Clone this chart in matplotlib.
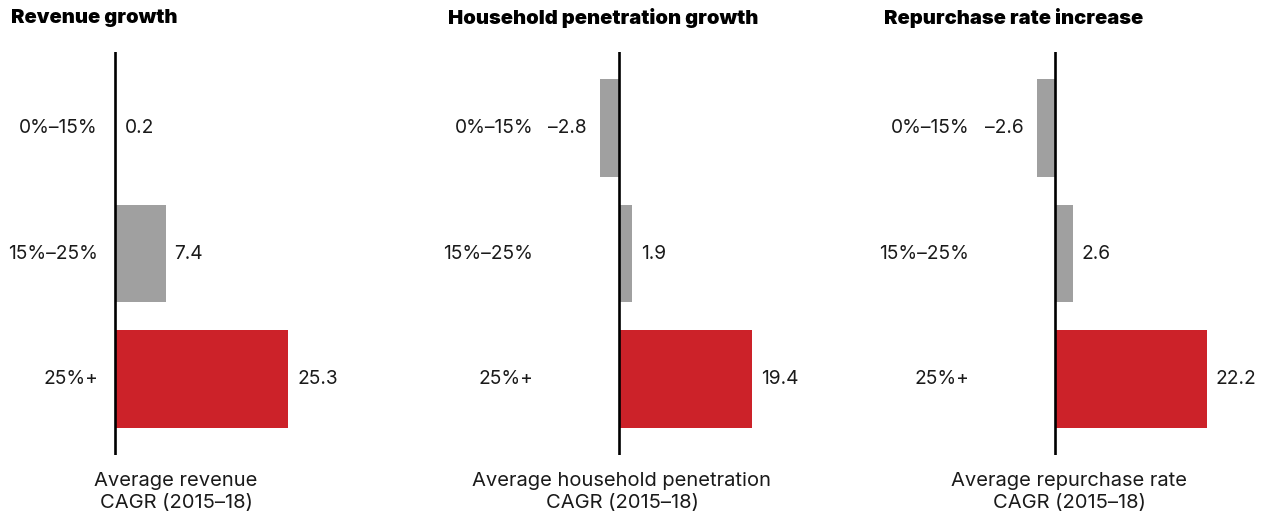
import matplotlib
matplotlib.use("Agg")
import matplotlib.pyplot as plt
import matplotlib.transforms as mtransforms

plt.rcParams['font.family'] = ['Inter', 'DejaVu Sans']

W, H = 1267, 517
DPI = 100

categories = ["0%–15%", "15%–25%", "25%+"]
titles = ["Revenue growth", "Household penetration growth", "Repurchase rate increase"]
xlabels = ["Average revenue\nCAGR (2015–18)",
           "Average household penetration\nCAGR (2015–18)",
           "Average repurchase rate\nCAGR (2015–18)"]
revenue = [0.2, 7.4, 25.3]
penetration = [-2.8, 1.9, 19.4]
repurchase = [-2.6, 2.6, 22.2]
series = [revenue, penetration, repurchase]

GRAY = "#a0a0a0"
RED = "#cc2229"
TXT = "#1a1a1a"
colors = [GRAY, GRAY, RED]

# layout in pixels
PX_PER_UNIT = 6.84
zero_px = [115, 619, 1055]
title_x = [11, 448, 884]
xlabel_x = [176, 622, 1069]
cat_pad_px = [17, 86, 86]
XMIN, XMAX = -5, 30
top_px, bot_px = 52, 455
FS = 13.8

fig = plt.figure(figsize=(W / DPI, H / DPI), dpi=DPI)

for i, vals in enumerate(series):
    left_px = zero_px[i] + XMIN * PX_PER_UNIT
    width_px = (XMAX - XMIN) * PX_PER_UNIT
    ax = fig.add_axes([left_px / W, 1 - bot_px / H, width_px / W, (bot_px - top_px) / H])
    ypos = list(range(len(categories)))
    ax.barh(ypos, vals, height=0.78, color=colors, zorder=2)
    ax.axvline(0, color="black", lw=1.9, zorder=3)
    ax.set_xlim(XMIN, XMAX)
    ax.set_ylim(2.605, -0.605)
    ax.axis("off")

    for y, v, c in zip(ypos, vals, categories):
        if v >= 0:
            tr = mtransforms.offset_copy(ax.transData, fig=fig, x=9 * 0.72, y=0, units="points")
            ax.text(v, y, f"{v:.1f}", transform=tr, ha="left", va="center",
                    fontsize=FS, color=TXT)
        else:
            tr = mtransforms.offset_copy(ax.transData, fig=fig, x=-13 * 0.72, y=0, units="points")
            ax.text(v, y, f"–{abs(v):.1f}", transform=tr, ha="right", va="center",
                    fontsize=FS, color=TXT)
        tr = mtransforms.offset_copy(ax.transData, fig=fig, x=-cat_pad_px[i] * 0.72, y=0, units="points")
        ax.text(0, y, c, transform=tr, ha="right", va="center", fontsize=FS, color=TXT)

    fig.text(title_x[i] / W, 1 - 18 / H, titles[i], ha="left", va="center",
             fontsize=14.5, fontweight="black", color="black")
    fig.text(xlabel_x[i] / W, 1 - 492 / H, xlabels[i], ha="center", va="center",
             fontsize=14.5, color=TXT, linespacing=1.3)

fig.savefig("out.png", dpi=DPI)
